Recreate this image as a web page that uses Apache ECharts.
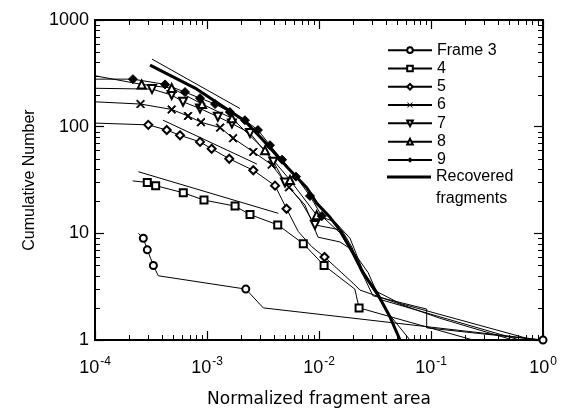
<!DOCTYPE html>
<html><head><meta charset="utf-8">
<script src="https://cdn.jsdelivr.net/npm/echarts@6/dist/echarts.min.js"></script>
<style>html,body{margin:0;padding:0;background:#fff}#c{width:567px;height:409px}</style>
</head><body><div id="c"></div>
<script>
// ---- tick labels ----
const xTickExponents = ['-4', '-3', '-2', '-1', '0'];
const yTickLabels = ['1', '10', '100', '1000'];

// ---- series (normalized area, cumulative number) ----
const frame3 = [[2.44e-4,10],[2.7e-4,9],[2.93e-4,7],[3.32e-4,5],[3.67e-4,4],[2.22e-3,3],[3.18e-3,2],[1,1]];
const frame3Marks = [[2.7e-4,9],[2.93e-4,7],[3.32e-4,5],[2.22e-3,3],[1,1]];

const frame4 = [[2.17e-4,31],[2.93e-4,30],[3.48e-4,28],[6.14e-4,24],[9.4e-4,20.5],[1.78e-3,18],[2.42e-3,15],[4.28e-3,12],[7.24e-3,8],[1.11e-2,5],[2.09e-2,3],[2.28e-2,2],[0.237,1]];
const frame4Marks = [[2.93e-4,30],[3.48e-4,28],[6.14e-4,24],[9.4e-4,20.5],[1.78e-3,18],[2.42e-3,15],[4.28e-3,12],[7.24e-3,8],[1.11e-2,5],[2.28e-2,2]];

const frame5 = [[1e-4,108],[2.99e-4,104],[4.37e-4,93],[5.74e-4,83],[8.66e-4,72],[1.10e-3,62],[1.58e-3,50],[2.59e-3,39],[4.05e-3,28],[5.13e-3,17],[6.53e-3,10.4],[8.61e-3,7.5],[1.12e-2,6],[2.02e-2,3.4],[2.32e-2,2.94],[0.12,1.6],[0.54,1]];
const frame5Marks = [[2.99e-4,104],[4.37e-4,93],[5.74e-4,83],[8.66e-4,72],[1.10e-3,62],[1.58e-3,50],[2.59e-3,39],[4.05e-3,28],[5.13e-3,17],[1.12e-2,6]];

const frame6 = [[1e-4,171],[2.55e-4,163],[4.84e-4,145],[6.77e-4,126],[8.84e-4,110],[1.31e-3,98],[1.71e-3,78],[2.59e-3,58],[3.78e-3,44],[5.40e-3,27],[7.5e-3,18.4],[9.8e-3,9.2],[1.54e-2,8.3],[1.97e-2,7],[2.74e-2,4.3],[3.51e-2,2.4],[0.62,1]];
const frame6Marks = [[2.55e-4,163],[4.84e-4,145],[6.77e-4,126],[8.84e-4,110],[1.31e-3,98],[1.71e-3,78],[2.59e-3,58],[3.78e-3,44],[5.40e-3,27]];

const frame7 = [[1e-4,229],[3.23e-4,225],[4.84e-4,198],[6.11e-4,171],[8.66e-4,148],[1.25e-3,124],[1.67e-3,107],[2.42e-3,87],[3.91e-3,47],[4.97e-3,30],[6.77e-3,20.5],[9.2e-3,12],[1.6e-2,10.7],[1.97e-2,7.4],[2.32e-2,4.7],[3.03e-2,2.6],[9.15e-2,1.95],[9.15e-2,1.3],[0.94,1]];
const frame7Marks = [[3.23e-4,225],[4.84e-4,198],[6.11e-4,171],[8.66e-4,148],[1.25e-3,124],[1.67e-3,107],[2.42e-3,87],[3.91e-3,47],[4.97e-3,30],[9.2e-3,12]];

const frame8 = [[1e-4,300],[2.61e-4,249],[4.84e-4,230],[9.03e-4,163],[1.67e-3,120],[3.30e-3,60],[5.51e-3,31.6],[9.53e-3,14.8],[1.39e-2,12.8],[1.89e-2,9],[2.42e-2,4.7],[3.16e-2,2.9],[5.29e-2,2.2],[0.815,1]];
const frame8Marks = [[2.61e-4,249],[4.84e-4,230],[9.03e-4,163],[1.67e-3,120],[3.30e-3,60],[5.51e-3,31.6],[9.53e-3,14.8]];

const frame9 = [[1e-4,279],[2.18e-4,279],[4.22e-4,249],[6.36e-4,211],[8.66e-4,185],[1.18e-3,163],[1.60e-3,137],[2.18e-3,115],[2.85e-3,93],[3.65e-3,67],[4.68e-3,49],[6.23e-3,34],[8.31e-3,22.4],[1.06e-2,14.5],[1.54e-2,10.1],[2.09e-2,5.9],[2.74e-2,3.5],[4.31e-2,1.7],[6.49e-2,1]];
const frame9Marks = [[2.18e-4,279],[4.22e-4,249],[6.36e-4,211],[8.66e-4,185],[1.18e-3,163],[1.60e-3,137],[2.18e-3,115],[2.85e-3,93],[3.65e-3,67],[4.68e-3,49],[6.23e-3,34],[8.31e-3,22.4],[1.06e-2,14.5]];

const recovered = [[3.10e-4,378],[7.82e-4,230],[2.18e-3,113],[3.16e-3,75],[5.18e-3,41.8],[7.81e-3,26.6],[9.6e-3,19],[1.25e-2,14.2],[1.54e-2,10.7],[2.01e-2,6.54],[2.47e-2,4.25],[3.3e-2,2.76],[4.31e-2,1.64],[5.29e-2,1]];

// power-law fit lines (end points)
const fitTop = [[3.23e-4,430],[1.97e-3,148]];
const fitFrame5 = [[4.05e-4,115],[2.79e-3,44.6]];
const fitFrame4 = [[2.44e-4,37.8],[4.33e-3,15.4]];

// ---- minor tick values (2..9 within each decade) ----
const xMinor = [], yMinor = [];
for (let e = -4; e < 0; e++) for (let k = 2; k <= 9; k++) xMinor.push(k * Math.pow(10, e));
for (let e = 0; e < 3; e++) for (let k = 2; k <= 9; k++) yMinor.push(k * Math.pow(10, e));

const FONT = 'Liberation Sans, Arial, Helvetica, sans-serif';
const crossPath = 'path://M0,1L1,0L5,4L9,0L10,1L6,5L10,9L9,10L5,6L1,10L0,9L4,5Z';

const frames = [
  {name: 'Frame 3', data: frame3, marks: frame3Marks, symbol: 'emptyCircle', size: 7, rot: 0},
  {name: '4', data: frame4, marks: frame4Marks, symbol: 'emptyRect', size: 7, rot: 0},
  {name: '5', data: frame5, marks: frame5Marks, symbol: 'emptyDiamond', size: 8, rot: 0},
  {name: '6', data: frame6, marks: frame6Marks, symbol: crossPath, size: 8, rot: 0},
  {name: '7', data: frame7, marks: frame7Marks, symbol: 'emptyTriangle', size: 8, rot: 180},
  {name: '8', data: frame8, marks: frame8Marks, symbol: 'emptyTriangle', size: 8, rot: 0},
  {name: '9', data: frame9, marks: frame9Marks, symbol: 'diamond', size: 9, rot: 0}
];

const series = [];
frames.forEach(f => {
  series.push({
    name: f.name, type: 'line', data: f.data, showSymbol: false,
    symbol: f.symbol, symbolSize: f.size, symbolRotate: f.rot,
    lineStyle: {color: '#000', width: 1}, itemStyle: {color: '#000', borderWidth: 1},
    z: 3, animation: false
  });
  series.push({
    type: 'scatter', data: f.marks, symbol: f.symbol, symbolSize: f.size, symbolRotate: f.rot,
    itemStyle: {color: '#000', borderColor: '#000', borderWidth: 1, opacity: 1},
    z: 4, animation: false, silent: true
  });
});
series.push({
  name: 'Recovered fragments', type: 'line', data: recovered, showSymbol: false, symbol: 'none',
  lineStyle: {color: '#000', width: 3}, itemStyle: {color: '#000'}, z: 5, animation: false
});
[fitTop, fitFrame5, fitFrame4].forEach(d => series.push({
  type: 'line', data: d, showSymbol: false, symbol: 'none',
  lineStyle: {color: '#000', width: 1}, z: 2, animation: false, silent: true
}));
// minor ticks drawn through the axes' own scales
series.push({
  type: 'custom', data: xMinor.map(v => [v, 1]), silent: true, z: 10, animation: false,
  renderItem: (params, api) => {
    const cs = params.coordSys; const x = Math.round(api.coord([api.value(0), 1])[0]) + 0.5;
    const b = cs.y + cs.height;
    return {type: 'group', children: [
      {type: 'line', shape: {x1: x, y1: b, x2: x, y2: b - 5}, style: {stroke: '#000', lineWidth: 1}},
      {type: 'line', shape: {x1: x, y1: cs.y, x2: x, y2: cs.y + 5}, style: {stroke: '#000', lineWidth: 1}}
    ]};
  }
});
series.push({
  type: 'custom', data: yMinor.map(v => [1e-4, v]), silent: true, z: 10, animation: false,
  renderItem: (params, api) => {
    const cs = params.coordSys; const y = Math.round(api.coord([1e-4, api.value(1)])[1]) + 0.5;
    const r = cs.x + cs.width;
    return {type: 'group', children: [
      {type: 'line', shape: {x1: cs.x, y1: y, x2: cs.x + 5, y2: y}, style: {stroke: '#000', lineWidth: 1}},
      {type: 'line', shape: {x1: r, y1: y, x2: r - 5, y2: y}, style: {stroke: '#000', lineWidth: 1}}
    ]};
  }
});

const axisLine = {show: true, lineStyle: {color: '#000', width: 2}};
const axisTick = {show: true, inside: true, length: 9, lineStyle: {color: '#000', width: 1.2}};

const chart = echarts.init(document.getElementById('c'), null, {renderer: 'canvas'});
chart.setOption({
  animation: false,
  backgroundColor: '#fff',
  grid: {left: 95, top: 20, width: 448, height: 320, containLabel: false, outerBoundsMode: 'none'},
  legend: [{
    orient: 'vertical', left: 387, top: 41, padding: 0, itemWidth: 44, itemHeight: 7, itemGap: 0,
    selectedMode: false,
    textStyle: {fontSize: 16, fontFamily: FONT, color: '#000', lineHeight: 18.3},
    data: frames.map(f => f.name)
  }, {
    orient: 'vertical', left: 387, top: 144, padding: 0, itemWidth: 44, itemHeight: 3, itemGap: 0,
    selectedMode: false, icon: 'rect', itemStyle: {color: '#000'},
    textStyle: {fontSize: 16, fontFamily: FONT, color: '#000', lineHeight: 22},
    formatter: n => '\n' + n.replace(' ', '\n'),
    data: ['Recovered fragments']
  }],
  xAxis: [{
    type: 'log', logBase: 10, min: 1e-4, max: 1, position: 'bottom',
    axisLine, axisTick, splitLine: {show: false},
    axisLabel: {
      margin: 16, color: '#000',
      formatter: (v, i) => '{b|10}{s|' + (xTickExponents[i] !== undefined ? xTickExponents[i] : Math.round(Math.log10(v))) + '}',
      rich: {
        b: {fontSize: 18, fontFamily: FONT, color: '#000', verticalAlign: 'bottom'},
        s: {fontSize: 12, fontFamily: FONT, color: '#000', verticalAlign: 'bottom', padding: [0, 0, 9, 1]}
      }
    },
    name: 'Normalized fragment area', nameLocation: 'middle', nameGap: 51,
    nameTextStyle: {fontSize: 17, fontFamily: 'DejaVu Sans, sans-serif', color: '#000'}
  }, {
    type: 'log', logBase: 10, min: 1e-4, max: 1, position: 'top',
    axisLine, axisTick, axisLabel: {show: false}, splitLine: {show: false}
  }],
  yAxis: [{
    type: 'log', logBase: 10, min: 1, max: 1000, position: 'left',
    axisLine, axisTick, splitLine: {show: false},
    axisLabel: {
      margin: 6, color: '#000', fontSize: 18, fontFamily: FONT,
      formatter: (v, i) => yTickLabels[i] !== undefined ? yTickLabels[i] : String(v)
    },
    name: 'Cumulative Number', nameLocation: 'middle', nameGap: 49,
    nameTextStyle: {fontSize: 16, fontFamily: FONT, color: '#000'}
  }, {
    type: 'log', logBase: 10, min: 1, max: 1000, position: 'right',
    axisLine, axisTick, axisLabel: {show: false}, splitLine: {show: false}
  }],
  series
});
</script>
</body></html>
